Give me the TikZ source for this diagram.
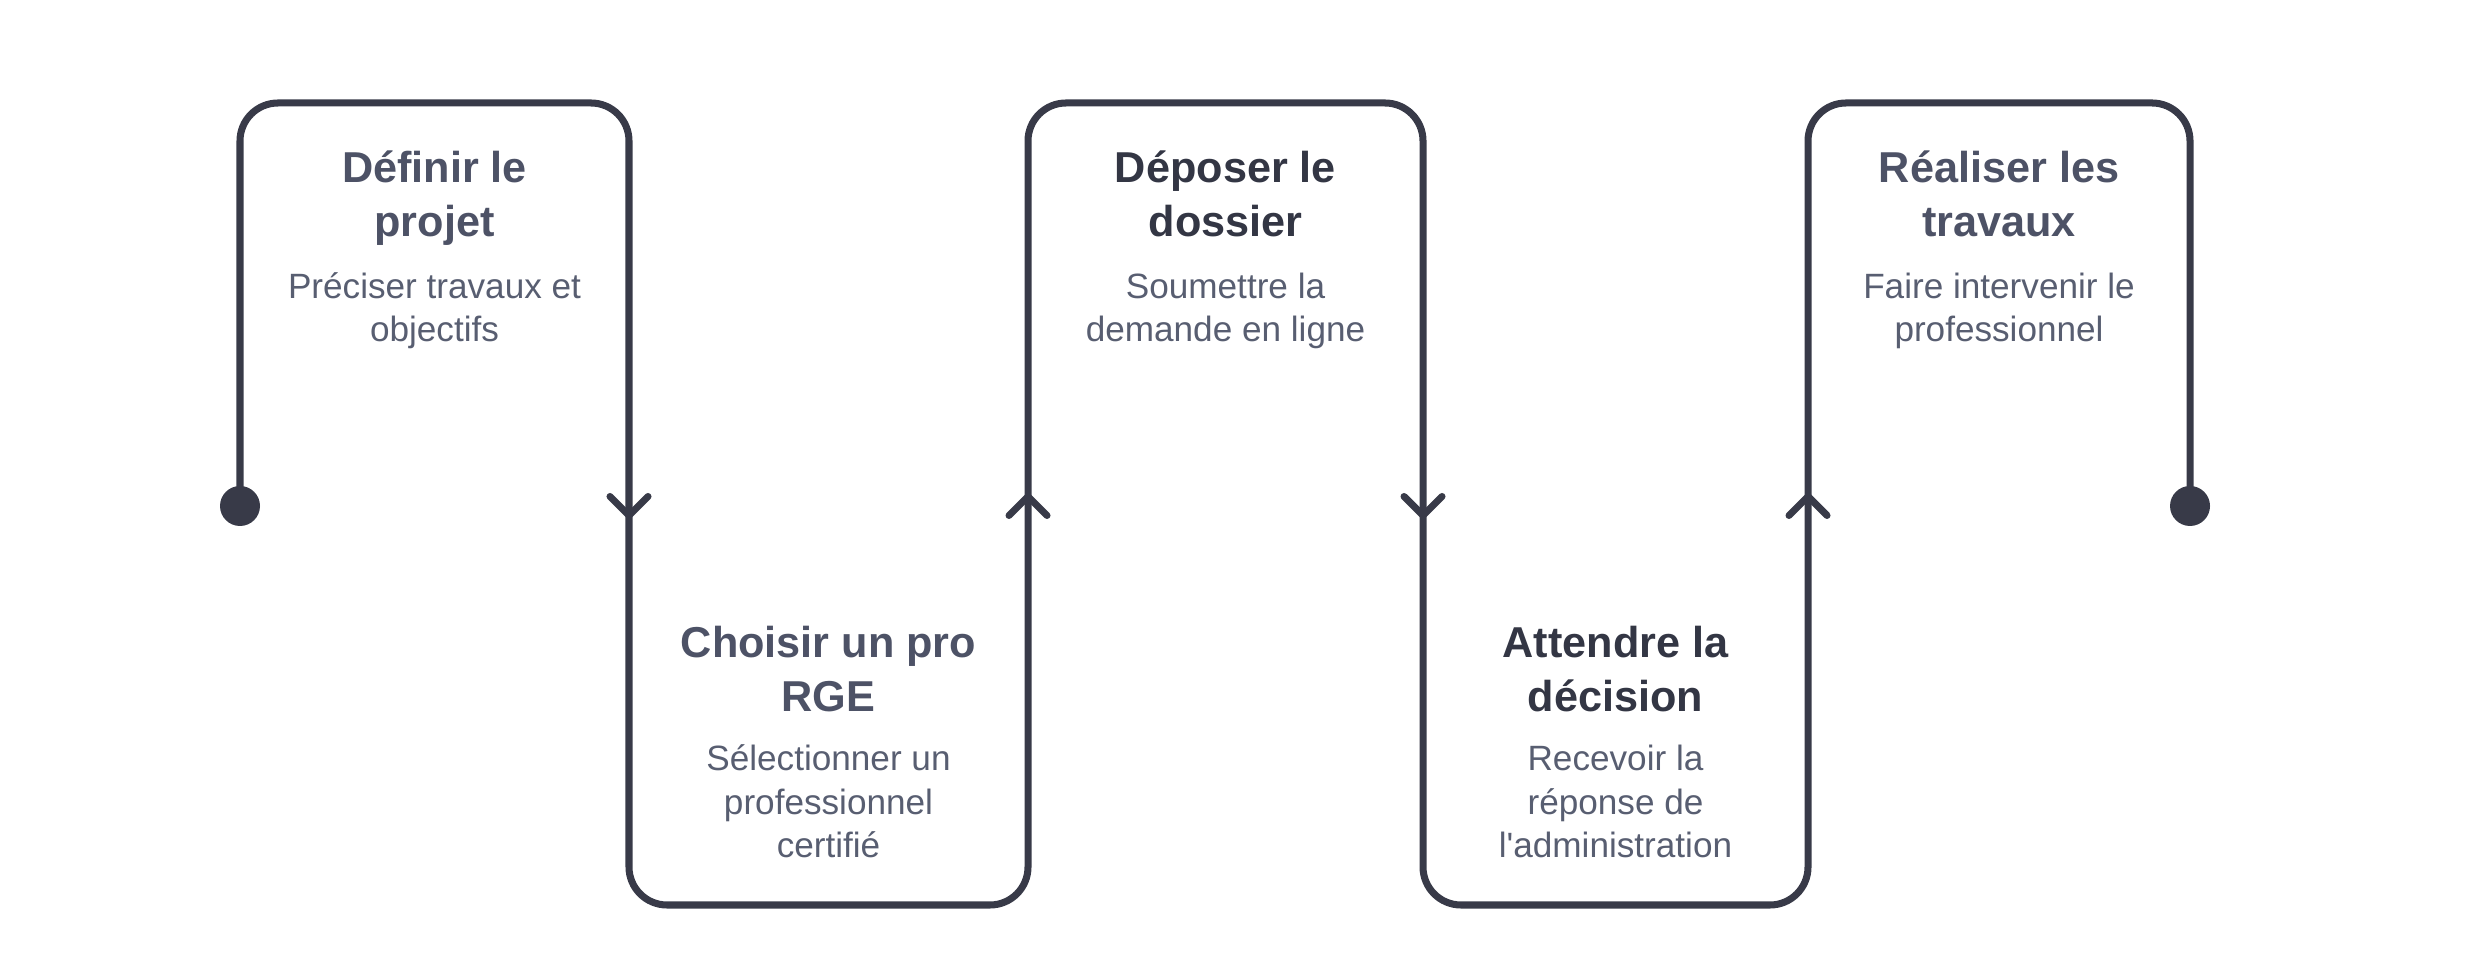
\documentclass[tikz,border=0pt]{standalone}
\usepackage{fontspec}
\setmainfont{Liberation Sans}
\usetikzlibrary{positioning}

\definecolor{trackcol}{HTML}{383A48}
\definecolor{titlecol}{HTML}{4D5266}
\definecolor{titledark}{HTML}{333644}
\definecolor{desccol}{HTML}{585E71}

\tikzset{
  track/.style={line width=2pt, draw=trackcol, rounded corners=0.38cm},
  chev/.style={line width=2pt, draw=trackcol, line cap=round, line join=round},
  dot/.style={circle, fill=trackcol, minimum size=0.4cm, inner sep=0pt},
  ttl/.style={anchor=base, align=center, inner sep=0pt, text=titlecol,
    font=\bfseries\fontsize{12.3}{15.4}\selectfont},
  dsc/.style={anchor=base, align=center, inner sep=0pt, text=desccol,
    font=\fontsize{10}{12.4}\selectfont},
}

\begin{document}
\begin{tikzpicture}
  \useasboundingbox (0,0) rectangle (24.8,9.56);

  % end points and arrow positions
  \node[dot] (start) at (2.40,4.50) {};
  \node[dot] (end) at (21.90,4.50) {};
  \coordinate (a1) at (6.29,4.50);
  \coordinate (a2) at (10.28,4.50);
  \coordinate (a3) at (14.23,4.50);
  \coordinate (a4) at (18.08,4.50);

  % the track
  \draw[track] (start.center) -- (2.40,8.53) -- (6.29,8.53) -- (6.29,0.51)
    -- (10.28,0.51) -- (10.28,8.53) -- (14.23,8.53) -- (14.23,0.51)
    -- (18.08,0.51) -- (18.08,8.53) -- (21.90,8.53) -- (end.center);

  % Draw arrow heads
  \foreach \p/\d in {a1/-1,a2/1,a3/-1,a4/1} {
    \draw[chev] (\p) ++(-0.19,{-0.095*(\d)}) -- ++(0.19,{0.19*(\d)}) -- ++(0.19,{-0.19*(\d)});
  }

  % steps (base = last line)
  \node[ttl] (t1) at (4.345,7.19) {Définir le\\projet};
  \node[dsc] (d1) at (4.345,6.14) {Préciser travaux et\\objectifs};

  \node[ttl] (t2) at (8.285,2.44) {Choisir un pro\\RGE};
  \node[dsc] (d2) at (8.285,0.98) {Sélectionner un\\professionnel\\certifié};

  \node[ttl, text=titledark] (t3) at (12.255,7.19) {Déposer le\\dossier};
  \node[dsc] (d3) at (12.255,6.14) {Soumettre la\\demande en ligne};

  \node[ttl, text=titledark] (t4) at (16.155,2.44) {Attendre la\\décision};
  \node[dsc] (d4) at (16.155,0.98) {Recevoir la\\réponse de\\l\textquotesingle administration};

  \node[ttl] (t5) at (19.99,7.19) {Réaliser les\\travaux};
  \node[dsc] (d5) at (19.99,6.14) {Faire intervenir le\\professionnel};
\end{tikzpicture}
\end{document}
